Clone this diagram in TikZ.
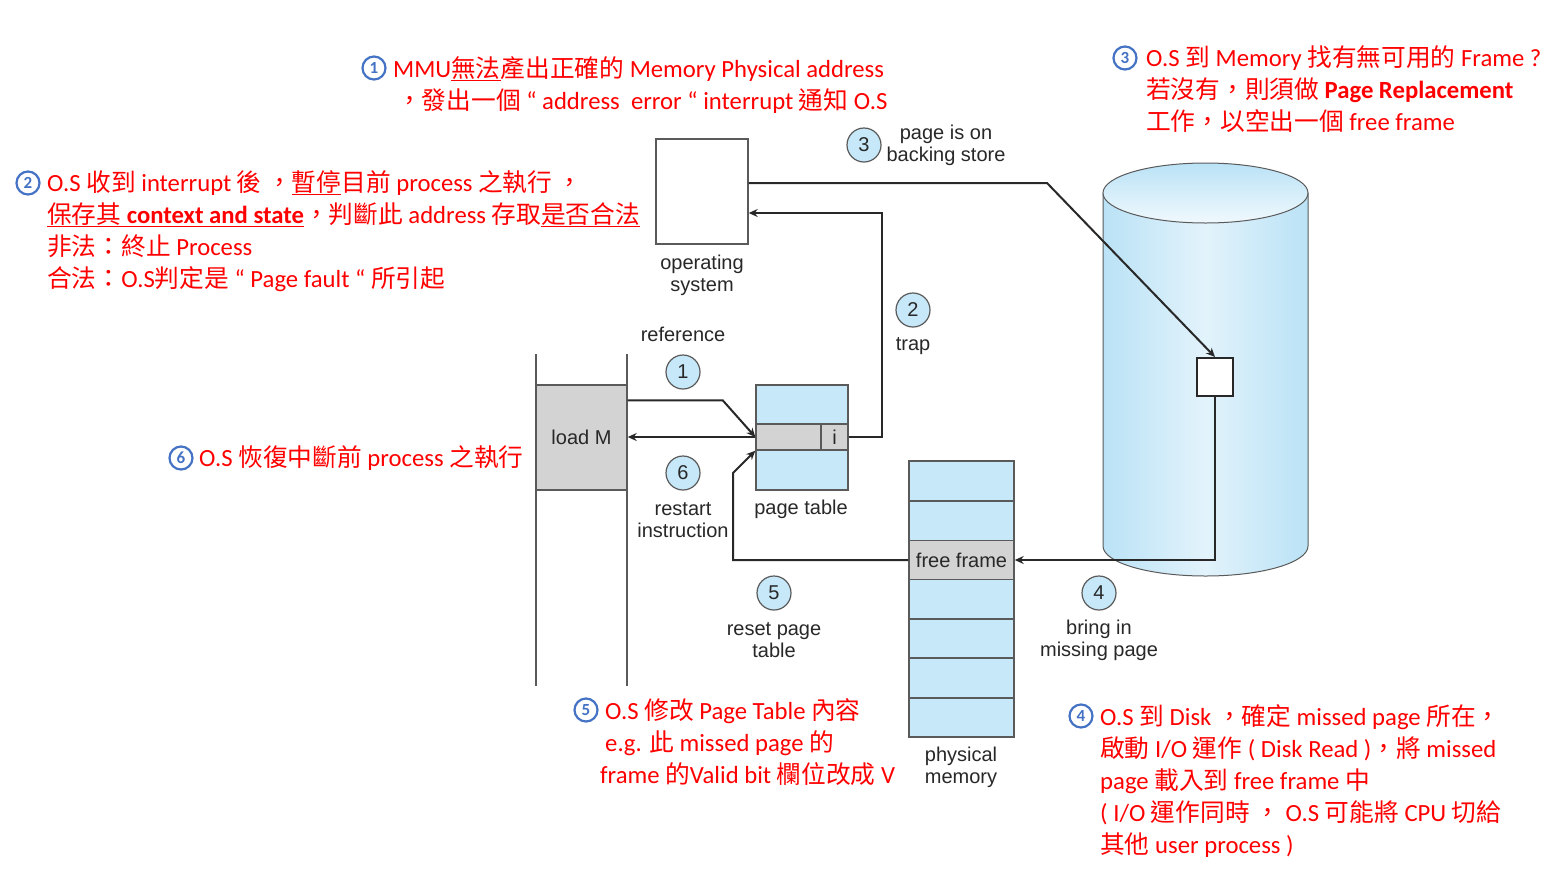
\documentclass[tikz,border=0pt]{standalone}
\usepackage{fontspec}
\setmainfont{Carlito}
\newfontfamily\hv{Liberation Sans}
\newfontfamily\cjk{Noto Sans CJK TC}
\usetikzlibrary{arrows.meta,calc}
\definecolor{annred}{RGB}{255,0,0}
\definecolor{annblue}{RGB}{68,114,196}
\definecolor{pblue}{RGB}{198,232,248}
\definecolor{pgray}{RGB}{211,211,211}
\definecolor{dline}{RGB}{40,40,40}
\definecolor{bline}{RGB}{90,90,90}
\definecolor{dtext}{RGB}{40,40,40}
\definecolor{cylE}{RGB}{186,226,246}
\definecolor{cylM}{RGB}{226,243,251}
\definecolor{cylT}{RGB}{240,249,253}
\newcommand\ulx[1]{\setbox0\hbox{#1}\rlap{\rule[-4pt]{\wd0}{1.5pt}}\box0}
\begin{document}
\begin{tikzpicture}[x=1pt,y=-1pt,
  box/.style={draw=bline, line width=1.4pt, inner sep=0pt},
  lbl/.style={text=dtext, font=\hv\fontsize{20}{22}\selectfont, align=center, inner sep=0pt},
  numc/.style={circle, draw=bline, line width=1.2pt, fill=pblue, text=dtext, font=\hv\fontsize{20}{20}\selectfont, minimum size=34pt, inner sep=0pt},
  arr/.style={draw=dline, line width=2pt, -{Stealth[length=9pt,width=8pt]}},
  conn/.style={draw=dline, line width=2pt},
  rt/.style={text=annred, font=\fontsize{24.7}{28}\selectfont, anchor=base west, inner sep=0pt},
  numb/.style={circle, draw=annblue, line width=2.2pt, fill=white, text=annblue, font=\bfseries\fontsize{17}{17}\selectfont, minimum size=23pt, inner sep=0pt}]
\fill[white] (0,0) rectangle (1562,887);
\useasboundingbox (0,0) rectangle (1562,887);

% ---------- cylinder (backing store) ----------
\shade[left color=cylE, right color=cylE, middle color=cylM, draw=bline, line width=1pt]
  (1103,193) -- (1103,546) arc[start angle=180,end angle=360,x radius=102.5pt,y radius=30pt] -- (1308,193) -- cycle;
\shade[top color=cylE, bottom color=cylT, draw=bline, line width=1pt]
  (1205.5,193) ellipse [x radius=102.5pt, y radius=30pt];
\node[box, draw=dline, line width=2pt, fill=white, minimum width=36pt, minimum height=38pt] (sq) at (1215,377) {};

% ---------- boxes ----------
\node[box, fill=white, minimum width=92pt, minimum height=105pt] (os) at (702,191.5) {};
\node[lbl] (oslbl) at (702,275) {operating\\system};

\draw[bline, line width=1.4pt] (536,354) -- (536,686);
\draw[bline, line width=1.4pt] (627,354) -- (627,686);
\node[box, fill=pgray, minimum width=91pt, minimum height=105pt, lbl] (lm) at (581.5,437.5) {load M};

\node[box, fill=pblue, minimum width=92pt, minimum height=105pt] (pt) at (802,437.5) {};
\node[box, fill=pgray, minimum width=92pt, minimum height=26pt] (ptrow) at (802,437) {};
\node[box, fill=pgray, minimum width=27pt, minimum height=26pt, lbl] (icell) at (834.5,437) {i};
\node[lbl] (ptlbl) at (801,509) {page table};

\node[box, fill=pblue, minimum width=105pt, minimum height=276pt] (pm) at (961.5,599) {};
\foreach \yy in {501,619,658,698} \draw[bline, line width=1.4pt] (909,\yy) -- (1014,\yy);
\node[box, fill=pgray, minimum width=105pt, minimum height=39pt, lbl] (ff) at (961.5,560) {free frame};
\node[lbl] (pmlbl) at (961,767) {physical\\memory};

% ---------- step circles and labels ----------
\node[numc] (n1) at (683,372) {1};
\node[lbl] (l1) at (683,334) {reference};
\node[numc] (n2) at (913,310) {2};
\node[lbl] (l2) at (913,346) {trap};
\node[numc] (n3) at (864,145) {3};
\node[lbl] (l3) at (946,145) {page is on\\backing store};
\node[numc] (n4) at (1099,593) {4};
\node[lbl] (l4) at (1099,640) {bring in\\missing page};
\node[numc] (n5) at (774,593) {5};
\node[lbl] (l5) at (774,640) {reset page\\table};
\node[numc] (n6) at (683,473) {6};
\node[lbl] (l6) at (683,520) {restart\\instruction};

% ---------- connectors ----------
\draw[arr] ([yshift=-16pt]lm.north east) -- ++(95,0) -- (ptrow.west);
\draw[arr] (ptrow.west) -- (ptrow.west -| lm.east);
\coordinate (trapc) at (882,213);
\draw[arr] (icell.east) -| (trapc) -- (trapc -| os.east);
\coordinate (bend3) at (1047,183);
\draw[arr] (os.east |- bend3) -- (bend3) -- (sq.north);
\draw[arr] (sq.south) |- (ff.east);
\coordinate (c5) at (733,473);
\draw[arr] (ff.west) -| (c5) -- (ptrow.south west);

% ---------- red annotations ----------
\node[numb] (b1) at (374,68) {1};
\node[rt] (a1a) at (393,77) {MMU\ulx{\cjk 無法}{\cjk 產出正確的} Memory Physical address};
\node[rt] (a1b) at (397,109) {{\cjk ，發出一個} “ address\ \ error “ interrupt {\cjk 通知} O.S};

\node[numb] (b2) at (28,183) {2};
\node[rt] (a2a) at (47,191) {O.S {\cjk 收到} interrupt {\cjk 後} {\cjk ，}\ulx{\cjk 暫停}{\cjk 目前} process {\cjk 之執行} {\cjk ，}};
\node[rt] (a2b) at (47,223) {\ulx{{\cjk 保存其} \textbf{context and state}}{\cjk ，判斷此} address {\cjk 存取}\ulx{\cjk 是否合法}};
\node[rt] (a2c) at (47,255) {{\cjk 非法：終止} Process};
\node[rt] (a2d) at (47,287) {{\cjk 合法：}O.S{\cjk 判定是} “ Page fault “ {\cjk 所引起}};

\node[numb] (b3) at (1125,58) {3};
\node[rt] (a3a) at (1146,66) {O.S {\cjk 到} Memory {\cjk 找有無可用的} Frame ?};
\node[rt] (a3b) at (1146,98) {{\cjk 若沒有，則須做} \textbf{Page Replacement}};
\node[rt] (a3c) at (1146,130) {{\cjk 工作，以空出一個} free frame};

\node[numb] (b4) at (1081,716) {4};
\node[rt] (a4a) at (1100,725) {O.S {\cjk 到} Disk {\cjk ，確定} missed page {\cjk 所在，}};
\node[rt] (a4b) at (1100,757) {{\cjk 啟動} I/O {\cjk 運作} ( Disk Read ){\cjk ，將} missed};
\node[rt] (a4c) at (1100,789) {page {\cjk 載入到} free frame {\cjk 中}};
\node[rt] (a4d) at (1100,821) {( I/O {\cjk 運作同時} {\cjk ，} O.S {\cjk 可能將} CPU {\cjk 切給}};
\node[rt] (a4e) at (1100,853) {{\cjk 其他} user process )};

\node[numb] (b5) at (586,710) {5};
\node[rt] (a5a) at (605,719) {O.S {\cjk 修改} Page Table {\cjk 內容}};
\node[rt] (a5b) at (605,751) {e.g. {\cjk 此} missed page {\cjk 的}};
\node[rt] (a5c) at (600,783) {frame {\cjk 的}Valid bit {\cjk 欄位改成} V};

\node[numb] (b6) at (181,458) {6};
\node[rt] (a6a) at (199,466) {O.S {\cjk 恢復中斷前} process {\cjk 之執行}};
\end{tikzpicture}
\end{document}
